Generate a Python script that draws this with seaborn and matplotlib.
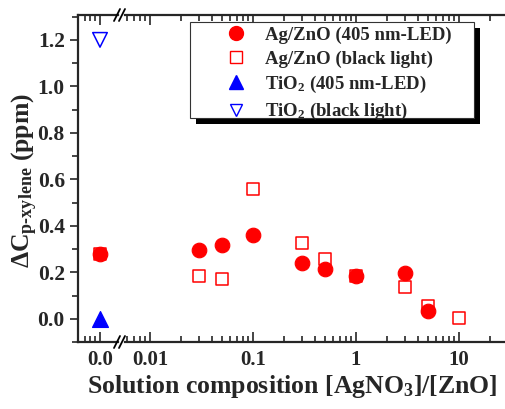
import numpy as np
import pandas as pd
import seaborn as sns
import matplotlib.pyplot as plt
import matplotlib.patheffects as pe
from matplotlib.lines import Line2D
from matplotlib.patches import Rectangle

# data
agzno_led_x = [0.0, 0.03, 0.05, 0.1, 0.3, 0.5, 1.0, 3.0, 5.0]
agzno_led_y = [0.28, 0.30, 0.32, 0.365, 0.245, 0.22, 0.19, 0.20, 0.04]
agzno_bl_x = [0.0, 0.03, 0.05, 0.1, 0.3, 0.5, 1.0, 3.0, 5.0, 10.0]
agzno_bl_y = [0.28, 0.19, 0.175, 0.56, 0.33, 0.26, 0.19, 0.14, 0.06, 0.01]
tio2_led_x = [0.0]
tio2_led_y = [0.0]
tio2_bl_x = [0.0]
tio2_bl_y = [1.2]

labels = ["Ag/ZnO (405 nm-LED)", "Ag/ZnO (black light)",
          "TiO$_2$ (405 nm-LED)", "TiO$_2$ (black light)"]
xticks = [0.01, 0.1, 1, 10]
xticklabels = ["0.01", "0.1", "1", "10"]

sns.set_style("ticks")
plt.rcParams["font.family"] = ["Liberation Serif", "DejaVu Serif"]
plt.rcParams["font.weight"] = "bold"
plt.rcParams["mathtext.fontset"] = "custom"
plt.rcParams["mathtext.rm"] = "Liberation Serif:bold"
plt.rcParams["mathtext.it"] = "Liberation Serif:bold"
plt.rcParams["mathtext.bf"] = "Liberation Serif:bold"
plt.rcParams["mathtext.default"] = "regular"
plt.rcParams["axes.linewidth"] = 1.6

series = [
    (agzno_led_x, agzno_led_y, dict(marker="o", s=110, color="red", edgecolor="red")),
    (agzno_bl_x, agzno_bl_y, dict(marker="s", s=75, facecolor="none", edgecolor="red", linewidth=1.1)),
    (tio2_led_x, tio2_led_y, dict(marker="^", s=130, color="blue", edgecolor="blue")),
    (tio2_bl_x, tio2_bl_y, dict(marker="v", s=110, facecolor="none", edgecolor="blue", linewidth=1.1)),
]

W, H = 505, 409
fig = plt.figure(figsize=(W / 100, H / 100), dpi=100)
bot, top = 342, 15
axL = fig.add_axes([78 / W, (H - bot) / H, 40 / W, (bot - top) / H])
axR = fig.add_axes([125 / W, (H - bot) / H, 380 / W, (bot - top) / H])

for xs, ys, kw in series:
    df = pd.DataFrame({"x": xs, "y": ys})
    left = df[df.x == 0]
    right = df[df.x > 0]
    if len(left):
        sns.scatterplot(data=left, x="x", y="y", ax=axL, zorder=3, **kw)
    if len(right):
        sns.scatterplot(data=right, x="x", y="y", ax=axR, zorder=3, **kw)

ylim = (-0.094, 1.307)
for ax in (axL, axR):
    ax.set_ylim(*ylim)
    ax.set_xlabel("")
    ax.set_ylabel("")
    ax.spines["right"].set_visible(False)
    ax.tick_params(axis="x", which="both", direction="in", top=True,
                   width=1.2, labelsize=15, pad=6)
    ax.tick_params(axis="x", which="major", length=7)
    ax.tick_params(axis="x", which="minor", length=4)

# left (zero) segment
axL.set_xlim(-0.044, 0.036)
axL.set_xticks([0.0])
axL.set_xticklabels(["0.0"])
axL.set_xticks([-0.03, -0.02, -0.01], minor=True)
axL.set_yticks(np.arange(0, 1.21, 0.2))
axL.set_yticklabels([f"{v:.1f}" for v in np.arange(0, 1.21, 0.2)])
axL.set_yticks(np.arange(-0.1, 1.31, 0.1), minor=True)
axL.tick_params(axis="y", which="both", direction="out", width=1.2, labelsize=15.5)
axL.tick_params(axis="y", which="major", length=6)
axL.tick_params(axis="y", which="minor", length=4)

# log segment
axR.set_xscale("log")
axR.set_xlim(0.00572, 28.0)
axR.set_xticks(xticks)
axR.set_xticklabels(xticklabels)
axR.spines["left"].set_visible(False)
axR.tick_params(axis="y", which="both", left=False, labelleft=False)

# axis break marks
for yb in (bot, top):
    for dx in (0, 5):
        x0 = (117 + dx) / W
        y0 = (H - yb) / H
        fig.add_artist(Line2D([x0 - 3 / W, x0 + 3 / W], [y0 - 6 / H, y0 + 6 / H],
                              color="black", linewidth=1.3))

fig.text(292 / W, (H - 386) / H, "Solution composition [AgNO$_3$]/[ZnO]",
         ha="center", va="center", fontsize=18.5, fontweight="bold")
fig.text(0.05, (H - 180) / H, r"$\Delta$C$_{\text{p-xylene}}$ (ppm)",
         ha="center", va="center", rotation=90, fontsize=18.5, fontweight="bold")

# legend box with a solid offset shadow
box = Rectangle((190 / W, (H - 118) / H), 284 / W, 96 / H, transform=fig.transFigure,
                facecolor="white", edgecolor="#333333", linewidth=0.8, zorder=4)
box.set_path_effects([pe.SimplePatchShadow(offset=(4.5, -4.5), shadow_rgbFace="black", alpha=1),
                      pe.Normal()])
fig.add_artist(box)

handles = [Line2D([], [], linestyle="none", marker="o", markersize=10, color="red"),
           Line2D([], [], linestyle="none", marker="s", markersize=8,
                  markerfacecolor="none", markeredgecolor="red"),
           Line2D([], [], linestyle="none", marker="^", markersize=10, color="blue"),
           Line2D([], [], linestyle="none", marker="v", markersize=9,
                  markerfacecolor="none", markeredgecolor="blue")]
leg = fig.legend(handles, labels, loc="upper left",
                 bbox_to_anchor=(211 / W, (H - 23) / H), bbox_transform=fig.transFigure,
                 frameon=False, handlelength=2.3, handletextpad=0.4,
                 labelspacing=0.33, borderpad=0.2, borderaxespad=0,
                 prop={"weight": "bold", "size": 13.5})
leg.set_zorder(5)

fig.savefig("out.png", dpi=100)
